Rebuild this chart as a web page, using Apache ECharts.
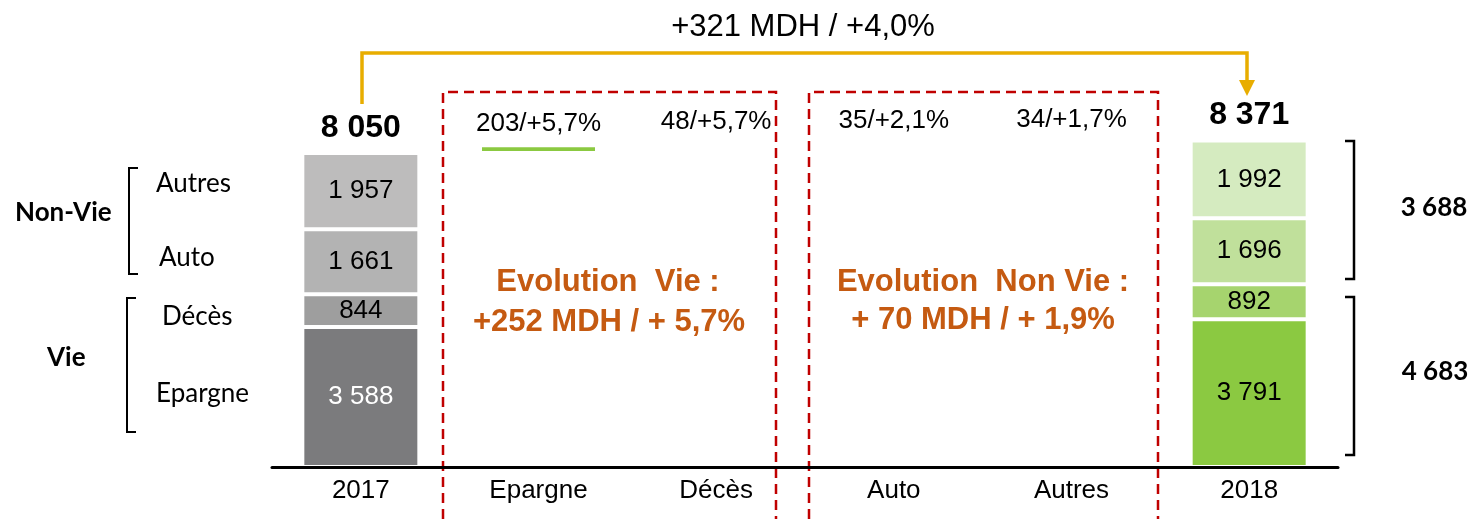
<!DOCTYPE html>
<html>
<head>
<meta charset="utf-8">
<script src="https://cdn.jsdelivr.net/npm/echarts@6/dist/echarts.min.js"></script>
<style>
html,body{margin:0;padding:0;background:#fff;}
#chart{width:1472px;height:519px;}
</style>
</head>
<body>
<div id="chart"></div>
<script>
// ---- data ----
const categories = ['2017', 'Epargne', 'Décès', 'Auto', 'Autres', '2018'];
const segmentNames = ['Epargne', 'Décès', 'Auto', 'Autres'];
const values2017 = [3588, 844, 1661, 1957];
const values2018 = [3791, 892, 1696, 1992];
const total2017 = 8050;
const total2018 = 8371;
const deltaValues = [203, 48, 35, 34];
const deltaPercents = ['+5,7%', '+5,7%', '+2,1%', '+1,7%'];
const colors2017 = ['#7B7B7D', '#9E9E9E', '#B3B3B3', '#BDBCBC'];
const colors2018 = ['#8BC941', '#A6D46E', '#C0E09B', '#D5EBC0'];
const label2017Colors = ['#FFFFFF', '#000000', '#000000', '#000000'];
const vieTotal = 4683;
const nonVieTotal = 3688;

// ---- helpers ----
const fmt = n => String(n).replace(/\B(?=(\d{3})+(?!\d))/g, ' ');
const SANS = '"Liberation Sans", Arial, sans-serif';
const CAL = 'Lato, "Open Sans", sans-serif';
const last = categories.length - 1;

const series = [];
segmentNames.forEach((name, k) => {
  const data = categories.map((c, i) => {
    if (i === 0) return { value: values2017[k], itemStyle: { color: colors2017[k] }, label: { color: label2017Colors[k] } };
    if (i === last) return { value: values2018[k], itemStyle: { color: colors2018[k] }, label: { color: '#000' } };
    return '-';
  });
  series.push({
    name: name, type: 'bar', stack: 'total', barWidth: 117,
    itemStyle: { borderColor: '#fff', borderWidth: 2 },
    label: { show: true, position: 'inside', fontFamily: SANS, fontSize: 26, formatter: p => fmt(p.value) },
    data: data
  });
});

// waterfall base (invisible) and deltas
const baseData = categories.map((c, i) => {
  if (i === 0 || i === last) return '-';
  let b = total2017;
  for (let j = 0; j < i - 1; j++) b += deltaValues[j];
  return b;
});
series.push({
  name: 'base', type: 'bar', stack: 'total', barWidth: 117,
  itemStyle: { color: 'transparent' }, silent: true,
  data: baseData
});
series.push({
  name: 'delta', type: 'bar', stack: 'total', barWidth: 117,
  label: {
    show: true, position: 'top', distance: 8, fontFamily: SANS, fontSize: 26, color: '#000',
    formatter: p => deltaValues[p.dataIndex - 1] + '/' + deltaPercents[p.dataIndex - 1]
  },
  data: categories.map((c, i) => {
    if (i === 0 || i === last) return '-';
    return i === 1
      ? { value: deltaValues[i - 1], itemStyle: { color: colors2018[0], borderColor: '#fff', borderWidth: 2 } }
      : { value: deltaValues[i - 1], itemStyle: { color: 'transparent', borderWidth: 0 } };
  })
});
// totals
series.push({
  name: 'totals', type: 'scatter', symbolSize: 0,
  itemStyle: { opacity: 1 },
  label: { show: true, position: 'top', distance: 9, fontFamily: SANS, fontSize: 32, fontWeight: 'bold', color: '#000',
    formatter: p => fmt(p.value[1]) },
  data: [[0, total2017], [last, total2018]]
});

const chart = echarts.init(document.getElementById('chart'), null, { renderer: 'canvas' });

const gold = '#E8AD00';
const red = '#C00000';
const orange = '#C55A11';

const txt = (text, x, y, opts) => Object.assign({
  type: 'text', x: x, y: y, z: 100,
  style: Object.assign({ text: text, fill: '#000', font: '26px ' + SANS, textAlign: 'left', textVerticalAlign: 'middle' }, opts || {})
});
const poly = (pts, stroke, lw, dash) => ({
  type: 'polyline', z: 50, shape: { points: pts },
  style: { stroke: stroke, lineWidth: lw, fill: null, lineDash: dash || null }
});

chart.setOption({
  animation: false,
  grid: { left: 272, right: 134, top: 77, bottom: 52 },
  xAxis: {
    type: 'category', data: categories,
    axisLine: { lineStyle: { color: '#000', width: 3 } },
    axisTick: { show: false },
    axisLabel: { fontFamily: SANS, fontSize: 26, color: '#000', margin: 11 },
    z: 60
  },
  yAxis: { type: 'value', min: 0, max: 10000, show: false, splitLine: { show: false } },
  series: series,
  graphic: [
    // red dashed boxes
    poly([[443, 519], [443, 92], [776, 92], [776, 519]], red, 2.5, [10, 6]),
    poly([[809, 519], [809, 92], [1158, 92], [1158, 519]], red, 2.5, [10, 6]),
    // gold arrow
    poly([[362, 104], [362, 53], [1247, 53], [1247, 82]], gold, 3.5),
    { type: 'polygon', z: 50, shape: { points: [[1239, 80], [1255, 80], [1247, 96]] }, style: { fill: gold } },
    txt('+321 MDH / +4,0%', 803, 27, { font: '31px ' + SANS, textAlign: 'center' }),
    // left brackets
    poly([[138, 168], [129, 168], [129, 274], [138, 274]], '#000', 2),
    poly([[136, 298], [127, 298], [127, 432], [136, 432]], '#000', 2),
    // right brackets
    poly([[1345, 141], [1354, 141], [1354, 279], [1345, 279]], '#000', 2.5),
    poly([[1345, 297], [1354, 297], [1354, 455], [1345, 455]], '#000', 2.5),
    // left labels
    txt('Non-Vie', 15, 213, { font: 'bold 26px ' + CAL }),
    txt('Vie', 47, 358, { font: 'bold 26px ' + CAL }),
    txt(segmentNames[3], 156, 184, { font: '26px ' + CAL }),
    txt(segmentNames[2], 159, 258, { font: '26px ' + CAL }),
    txt(segmentNames[1], 162, 317, { font: '26px ' + CAL }),
    txt(segmentNames[0], 156, 394, { font: '26px ' + CAL }),
    // right totals
    txt(fmt(nonVieTotal), 1434, 208, { font: 'bold 26px ' + CAL, textAlign: 'center' }),
    txt(fmt(vieTotal), 1435, 372, { font: 'bold 26px ' + CAL, textAlign: 'center' }),
    // evolution texts
    txt('Evolution  Vie :', 608, 282, { font: 'bold 31px ' + SANS, fill: orange, textAlign: 'center' }),
    txt('+252 MDH / + 5,7%', 609, 322, { font: 'bold 31px ' + SANS, fill: orange, textAlign: 'center' }),
    txt('Evolution  Non Vie :', 983, 282, { font: 'bold 31px ' + SANS, fill: orange, textAlign: 'center' }),
    txt('+ 70 MDH / + 1,9%', 983, 320, { font: 'bold 31px ' + SANS, fill: orange, textAlign: 'center' })
  ]
});
</script>
</body>
</html>
